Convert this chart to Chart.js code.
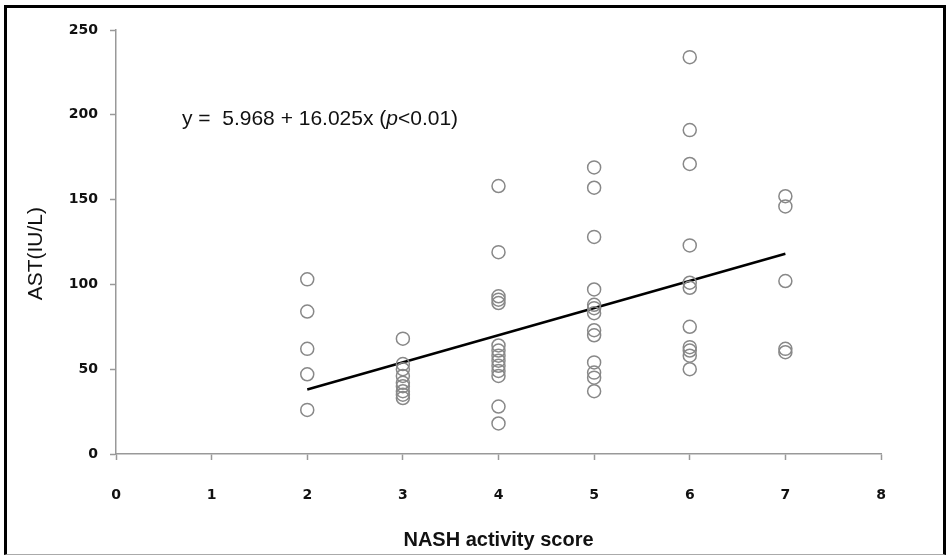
<!DOCTYPE html>
<html>
<head>
<meta charset="utf-8">
<script src="https://cdn.jsdelivr.net/npm/chart.js@4.4.0/dist/chart.umd.min.js"></script>
<style>
  html, body { margin: 0; padding: 0; background: #fff; }
  #wrap { position: absolute; left: 0; top: 0; width: 946px; height: 560px; }
  #frame {
    position: absolute; left: 4px; top: 5px; width: 936px; height: 546px;
    border-top: 3px solid #000; border-left: 3px solid #000;
    border-right: 3px solid #000; border-bottom: 1px solid #aaa;
    pointer-events: none;
  }
</style>
</head>
<body>
<div id="wrap"><canvas id="astChart"></canvas></div>
<div id="frame"></div>
<script>
// NASH activity score -> AST values
const scores = [2, 3, 4, 5, 6, 7];
const ast2 = [103, 84, 62, 47, 26];
const ast3 = [68, 53, 50, 46, 42, 40, 37, 35, 33];
const ast4 = [158, 119, 93, 91, 89, 64, 61, 58, 55, 52, 49, 46, 28, 18];
const ast5 = [169, 157, 128, 97, 88, 86, 83, 73, 70, 54, 48, 45, 37];
const ast6 = [234, 191, 171, 123, 101, 98, 75, 63, 61, 58, 50];
const ast7 = [152, 146, 102, 62, 60];

// regression line end points
const regX = [2, 7];
const regY = [38.0, 118.1];

const xTicks = [0, 1, 2, 3, 4, 5, 6, 7, 8];
const yTicks = [0, 50, 100, 150, 200, 250];

const astByScore = [ast2, ast3, ast4, ast5, ast6, ast7];
const points = [];
scores.forEach((s, i) => {
    astByScore[i].forEach(v => points.push({ x: s, y: v }));
});
const regLine = regX.map((x, i) => ({ x: x, y: regY[i] }));

// equation text in the upper left
const equationPlugin = {
    id: 'equation',
    afterDraw(chart) {
        const ctx = chart.ctx;
        const x0 = chart.scales.x.getPixelForValue(0.69);
        const y0 = chart.scales.y.getPixelForValue(194);
        ctx.save();
        ctx.fillStyle = '#111';
        ctx.textBaseline = 'alphabetic';
        ctx.font = '21px "Liberation Sans", Arial, sans-serif';
        let part1 = 'y =  5.968 + 16.025x (';
        ctx.fillText(part1, x0, y0);
        let x1 = x0 + ctx.measureText(part1).width;
        ctx.font = 'italic 21px "Liberation Sans", Arial, sans-serif';
        ctx.fillText('p', x1, y0);
        x1 += ctx.measureText('p').width;
        ctx.font = '21px "Liberation Sans", Arial, sans-serif';
        ctx.fillText('<0.01)', x1, y0);
        ctx.restore();
    }
};

const tickFont = { family: '"DejaVu Sans", sans-serif', size: 14, weight: 'bold' };

new Chart(document.getElementById('astChart'), {
    type: 'scatter',
    data: {
        datasets: [{
            label: 'AST',
            data: points,
            pointStyle: 'circle',
            pointRadius: 6.5,
            pointBorderWidth: 1.5,
            borderColor: '#888',
            backgroundColor: 'rgba(0,0,0,0)',
            pointHoverRadius: 6.5
        }, {
            type: 'line',
            label: 'fit',
            data: regLine,
            borderColor: '#000',
            borderWidth: 2.5,
            pointRadius: 0,
            fill: false
        }]
    },
    options: {
        responsive: true,
        maintainAspectRatio: false,
        animation: false,
        layout: { padding: { left: 0, top: 30, right: 65, bottom: 0 } },
        plugins: {
            legend: { display: false },
            tooltip: { enabled: false }
        },
        scales: {
            x: {
                type: 'linear',
                min: 0,
                max: 8,
                afterBuildTicks: scale => { scale.ticks = xTicks.map(v => ({ value: v })); },
                afterFit: scale => { scale.height = 106; },
                ticks: { color: '#111', font: tickFont, padding: 27, maxRotation: 0 },
                grid: { drawOnChartArea: false, tickLength: 6, color: '#999', tickColor: '#999', tickWidth: 1.5 },
                border: { color: '#999', width: 1.5 },
                title: {
                    display: true,
                    text: 'NASH activity score',
                    color: '#111',
                    font: { family: '"Liberation Sans", Arial, sans-serif', size: 20, weight: 'bold' },
                    padding: { top: 0, bottom: 8 }
                }
            },
            y: {
                type: 'linear',
                min: 0,
                max: 250,
                afterBuildTicks: scale => { scale.ticks = yTicks.map(v => ({ value: v })); },
                afterFit: scale => { scale.width = 116; },
                ticks: { color: '#111', font: tickFont, padding: 12 },
                grid: { drawOnChartArea: false, tickLength: 6, color: '#999', tickColor: '#999', tickWidth: 1.5 },
                border: { color: '#999', width: 1.5 },
                title: {
                    display: true,
                    // trailing spaces push the rotated title a little lower, as in the picture
                    text: 'AST(IU/L)    ',
                    color: '#111',
                    font: { family: '"Liberation Sans", Arial, sans-serif', size: 21 },
                    padding: { top: 24, bottom: 0 }
                }
            }
        }
    },
    plugins: [equationPlugin]
});
</script>
</body>
</html>
